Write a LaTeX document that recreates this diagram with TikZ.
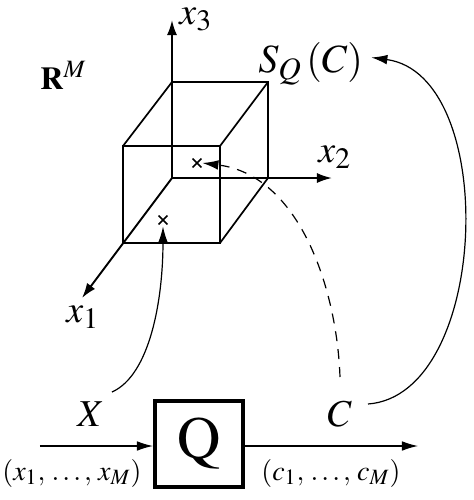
\documentclass[tikz,border=0pt]{standalone}
\usepackage{mathptmx}
\usepackage{fontspec}
\setmainfont{Liberation Serif}
\renewcommand\defaultscriptratio{.78}
\usetikzlibrary{arrows.meta,shapes.misc}
\begin{document}
\begin{tikzpicture}[x=0.5pt,y=-0.5pt,
  axis/.style={line width=0.95pt,-{Latex[length=7.5pt,width=5pt]}},
  edge/.style={line width=0.85pt},
  link/.style={line width=0.6pt,-{Latex[length=8pt,width=4.8pt]}},
  lbl/.style={inner sep=0pt,anchor=base west,font=\fontsize{19}{21}\selectfont},
  tup/.style={inner sep=0pt,anchor=base west,font=\fontsize{14}{16}\selectfont},
  xmark/.style={draw,cross out,minimum size=3.6pt,inner sep=0pt,line width=0.8pt},
  qbox/.style={draw,line width=2pt,minimum width=44pt,minimum height=43pt,inner sep=0pt,font=\fontsize{30}{32}\selectfont}]
\useasboundingbox (0,0) rectangle (474,500);
% axes
\coordinate (O) at (172,178);
\coordinate (e3) at (172,20);
\coordinate (e2) at (332,178);
\coordinate (e1) at (82,298);
\draw[axis] (O) -- (e3);
\draw[axis] (O) -- (e2);
\draw[axis] (O) -- (e1);
% cube
\coordinate (bTL) at (172,82);
\coordinate (bTR) at (268,82);
\coordinate (bBR) at (268,178);
\coordinate (fTL) at (123,146);
\coordinate (fTR) at (220,146);
\coordinate (fBL) at (123,243);
\coordinate (fBR) at (220,243);
\draw[edge] (fTL) rectangle (fBR);
\draw[edge] (bTL) -- (bTR) -- (bBR);
\draw[edge] (fTL) -- (bTL);
\draw[edge] (fTR) -- (bTR);
\draw[edge] (fBR) -- (bBR);
% labels
\node[lbl] (lx3) at (179,24) {$x_3$};
\node[lbl] (lx2) at (318,162) {$x_2$};
\node[lbl] (lx1) at (66,322) {$x_1$};
\node[inner sep=0pt,anchor=base west,font=\fontsize{16}{18}\selectfont] (RM) at (40,89) {$\mathbf{R}^M$};
\node[inner sep=0pt,anchor=base west,font=\fontsize{20}{22}\selectfont] (SQ) at (258,72) {$S_Q\,(C)$};
% marks
\node[xmark] (m1) at (163,220) {};
\node[xmark] (m2) at (197,163) {};
% quantizer
\node[qbox] (Q) at (199,444) {$\mathrm{Q}$};
\coordinate (in) at (40,446);
\coordinate (out) at (418,446);
\draw[link] (in) -- (Q.west |- in);
\draw[link] (Q.east |- out) -- (out);
\node[inner sep=0pt,anchor=base west,font=\fontsize{19}{21}\selectfont] (X) at (77,426) {$X$};
\node[inner sep=0pt,anchor=base west,font=\fontsize{19}{21}\selectfont] (C) at (327,426) {$C$};
\node[tup] (xt) at (2,480) {$(x_1,\,\ldots,\,x_M)$};
\node[tup] (ct) at (261,480) {$(c_1,\,\ldots,\,c_M)$};
% curves
\coordinate (s1) at (112,392);
\coordinate (s2) at (340,377);
\coordinate (s3) at (368,404);
\draw[link] (s1) .. controls (150,375) and (163,300) .. ([yshift=-1pt]m1.south);
\draw[link,dashed,dash pattern=on 5pt off 4pt] (s2) .. controls (337,290) and (300,175) .. ([xshift=0.5pt]m2.east);
\draw[link] (s3) .. controls (490,395) and (500,75) .. ([xshift=4pt,yshift=3pt]SQ.east);
\end{tikzpicture}
\end{document}
